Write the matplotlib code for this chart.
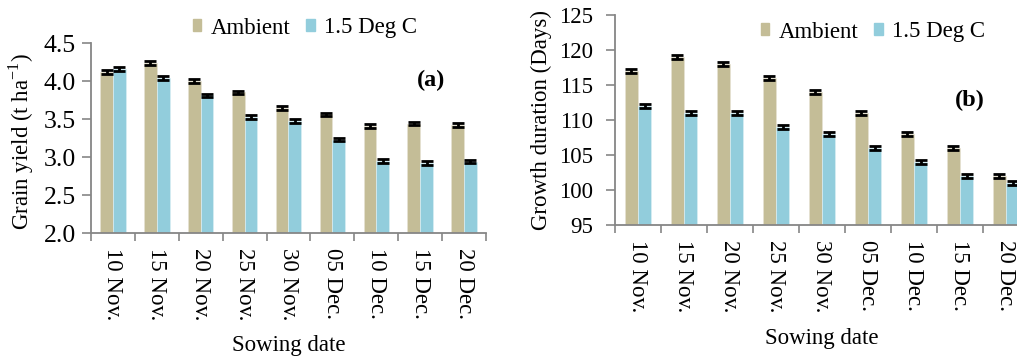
import numpy as np
import matplotlib.pyplot as plt
from matplotlib.patches import Patch

plt.rcParams['font.family'] = ['Liberation Serif', 'DejaVu Serif']
plt.rcParams['mathtext.fontset'] = 'custom'
plt.rcParams['mathtext.rm'] = 'Liberation Serif'

# Data
dates = ['10 Nov.', '15 Nov.', '20 Nov.', '25 Nov.', '30 Nov.',
         '05 Dec.', '10 Dec.', '15 Dec.', '20 Dec.']
yield_ambient = [4.12, 4.24, 4.00, 3.85, 3.65, 3.56, 3.41, 3.44, 3.42]
yield_warm = [4.16, 4.04, 3.81, 3.53, 3.47, 3.23, 2.95, 2.92, 2.94]
yield_err = [0.025] * 9
dur_ambient = [117, 119, 118, 116, 114, 111, 108, 106, 102]
dur_warm = [112, 111, 111, 109, 108, 106, 104, 102, 101]
dur_err = [0.35] * 9

c_amb = '#C4BD97'
c_warm = '#92CDDC'
grey = '#868686'
fs = 16.5

fig = plt.figure(figsize=(10.17, 3.6), dpi=100)
ax1 = fig.add_axes([91/1017, 1 - 233/360, 395/1017, 190/360])
ax2 = fig.add_axes([615/1017, 1 - 225/360, 414/1017, 210/360])

x = np.arange(len(dates))
w = 0.29


def draw(ax, amb, warm, err, ylim, yticks, fmt, yfs, ypad):
    ax.bar(x - w/2, amb, w, color=c_amb, edgecolor='#e6e2d3', linewidth=0.5)
    ax.bar(x + w/2, warm, w, color=c_warm, edgecolor='#d9eef3', linewidth=0.5)
    ax.errorbar(x - w/2, amb, yerr=err, fmt='none', ecolor='black',
                elinewidth=2, capsize=4.5, capthick=2)
    ax.errorbar(x + w/2, warm, yerr=err, fmt='none', ecolor='black',
                elinewidth=2, capsize=4.5, capthick=2)
    ax.set_xlim(-0.5, len(dates) - 0.5)
    ax.set_ylim(*ylim)
    ax.set_yticks(yticks)
    ax.set_yticklabels([fmt.format(v) for v in yticks], fontsize=yfs)
    ax.set_xticks(x)
    ax.set_xticklabels(dates, rotation=-90, fontsize=fs)
    ax.set_xticks(np.arange(-0.5, len(dates)), minor=True)
    ax.tick_params(axis='x', which='major', length=0, pad=11)
    ax.tick_params(axis='x', which='minor', length=5.5, width=1.2, color=grey)
    ax.tick_params(axis='y', length=6.5, width=1.2, color=grey, pad=ypad)
    for s in ['top', 'right']:
        ax.spines[s].set_visible(False)
    for s in ['left', 'bottom']:
        ax.spines[s].set_color(grey)
        ax.spines[s].set_linewidth(1.3)
    ax.set_xlabel('Sowing date', fontsize=fs)


draw(ax1, yield_ambient, yield_warm, yield_err, (2.0, 4.5),
     np.arange(2.0, 4.51, 0.5), '{:.1f}', 18.5, 4.5)
draw(ax2, dur_ambient, dur_warm, dur_err, (95, 125),
     np.arange(95, 126, 5), '{:.0f}', 16.5, 9)

ax1.set_ylabel('Grain yield (t ha$^{-1}$)', fontsize=fs)
ax1.yaxis.set_label_coords(-0.14, 0.48)
ax1.xaxis.set_label_coords(0.5, -0.535)
ax2.set_ylabel('Growth duration (Days)', fontsize=fs)
ax2.yaxis.set_label_coords(-0.152, 0.5)
ax2.xaxis.set_label_coords(0.5, -0.49)

ax1.text(431/1017, 1 - 80/360, '(a)', transform=fig.transFigure,
         fontsize=17.5, fontweight='bold', ha='center', va='center')
ax2.text(970/1017, 1 - 100/360, '(b)', transform=fig.transFigure,
         fontsize=17.5, fontweight='bold', ha='center', va='center')

handles = [Patch(color=c_amb, label='Ambient'), Patch(color=c_warm, label='1.5 Deg C')]
for ax, cx, cy in [(ax1, 305, 28), (ax2, 873, 32)]:
    ax.legend(handles=handles, loc='center', ncol=2, frameon=False,
              bbox_to_anchor=(cx/1017, 1 - cy/360), bbox_transform=fig.transFigure,
              fontsize=fs, handlelength=0.38, handleheight=0.42,
              handletextpad=0.4, columnspacing=0.7, borderpad=0)

fig.savefig('out.png', dpi=100)
